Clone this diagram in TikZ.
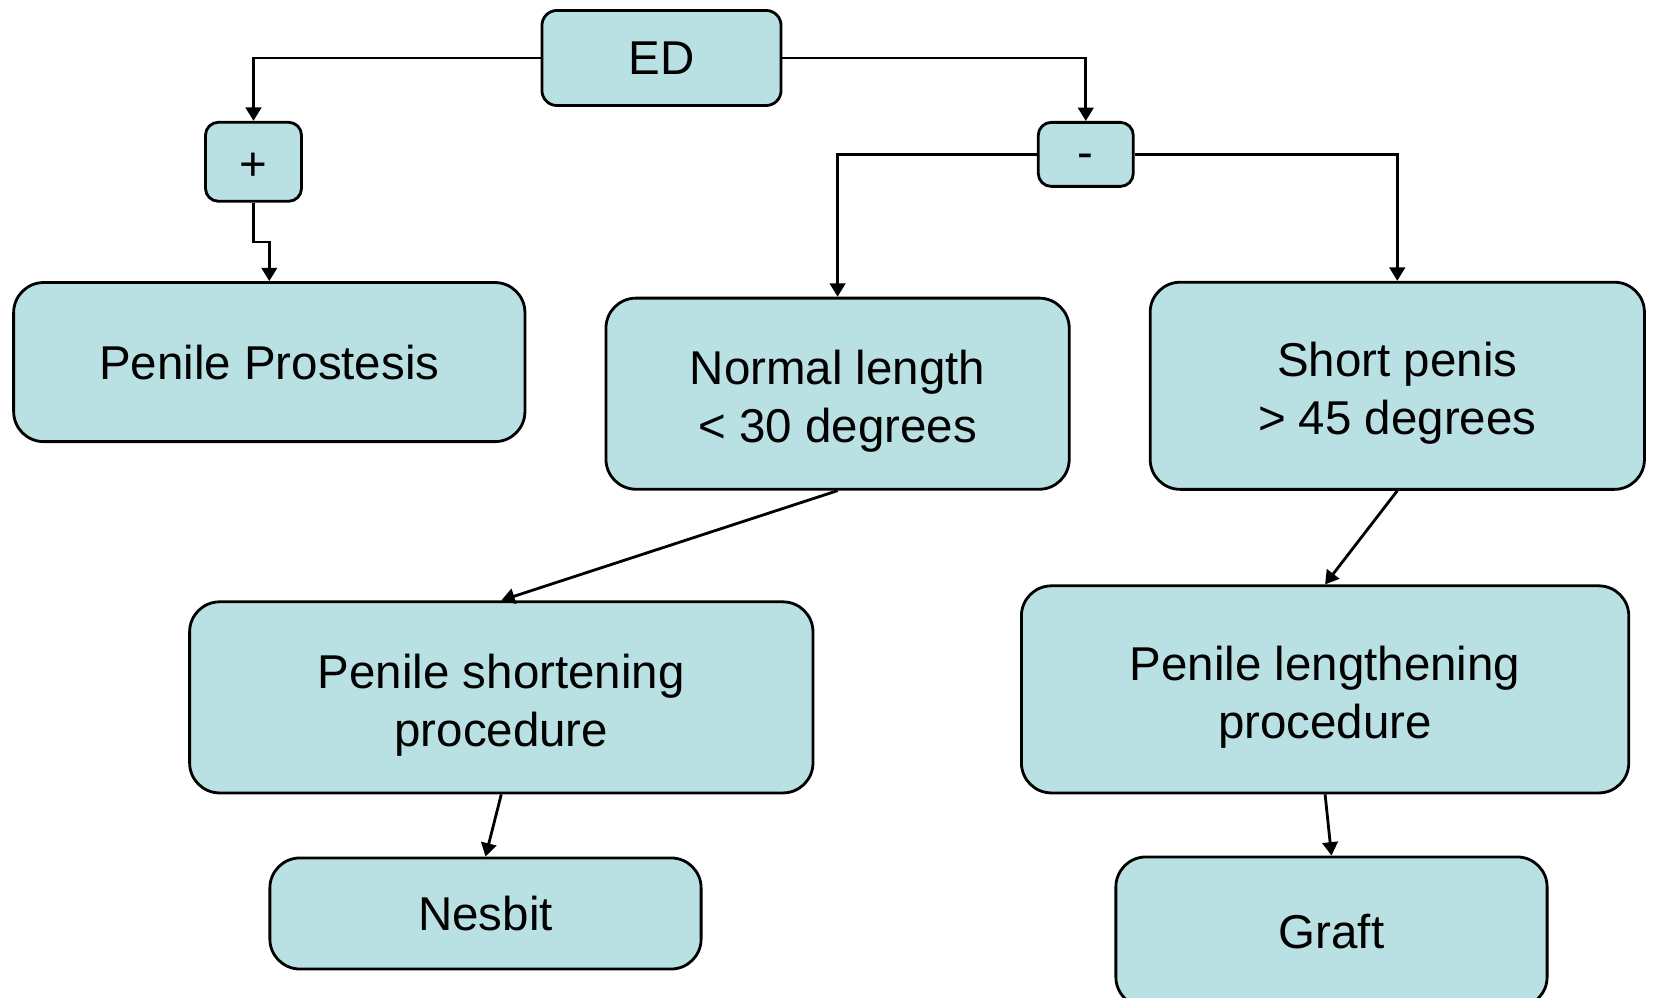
\documentclass[tikz,border=0pt]{standalone}
\usepackage{fontspec}
\setmainfont{Liberation Sans}
\usetikzlibrary{arrows.meta}
\definecolor{boxfill}{RGB}{185,224,227}

\begin{document}
\begin{tikzpicture}[x=0.01cm,y=-0.01cm,
        box/.style={draw,line width=0.8pt,fill=boxfill,rounded corners=0.3cm,align=center,
            inner sep=0pt,font=\fontsize{13.5}{16.5}\selectfont},
        twoline/.style={box,text height=27.7pt,text depth=0pt},
        small/.style={box,rounded corners=0.13cm},
        link/.style={line width=0.8pt,->,>={Triangle[length=3.8pt,width=4.4pt]}}]
        \path[use as bounding box,clip] (0,0) rectangle (1653,998);
        % top row
        \node[small,rounded corners=0.15cm,minimum width=2.39cm,minimum height=0.95cm] (ed) at (661.5,58) {ED};
        \node[small,text height=10.4pt,text depth=0pt,minimum width=0.96cm,minimum height=0.79cm] (plus) at (253.5,161.8) {+};
        \node[small,text height=8pt,text depth=0pt,minimum width=0.95cm,minimum height=0.64cm] (minus) at (1085.8,154.4) {-};
        % second row
        \node[box,minimum width=5.11cm,minimum height=1.59cm] (prost) at (269.3,362.1) {Penile Prostesis};
        \node[twoline,minimum width=4.63cm,minimum height=1.91cm] (normal) at (837.6,393.7) {Normal length\\< 30 degrees};
        \node[twoline,minimum width=4.94cm,minimum height=2.07cm] (short) at (1397.3,385.8) {Short penis\\> 45 degrees};
        % procedures
        \node[twoline,minimum width=6.23cm,minimum height=1.91cm] (shorten) at (501.3,697.4) {Penile shortening\\procedure};
        \node[twoline,minimum width=6.07cm,minimum height=2.07cm] (lengthen) at (1325.1,689.4) {Penile lengthening\\procedure};
        \node[box,minimum width=4.31cm,minimum height=1.11cm] (nesbit) at (485.5,913.5) {Nesbit};
        \node[box,minimum width=4.31cm,minimum height=1.50cm] (graft) at (1331.5,932) {Graft};
        % connectors
        \coordinate (pbend) at (253.5,242);
        \draw[link] (ed) -| (plus);
        \draw[link] (ed) -| (minus);
        \draw[link] (plus) -- (pbend) -| (prost);
        \draw[link] (minus) -| (normal);
        \draw[link] (minus) -| (short);
        \draw[link] (normal.south) -- (shorten.north);
        \draw[link] (short.south) -- (lengthen.north);
        \draw[link] (shorten.south) -- (nesbit.north);
        \draw[link] (lengthen.south) -- (graft.north);
\end{tikzpicture}
\end{document}
